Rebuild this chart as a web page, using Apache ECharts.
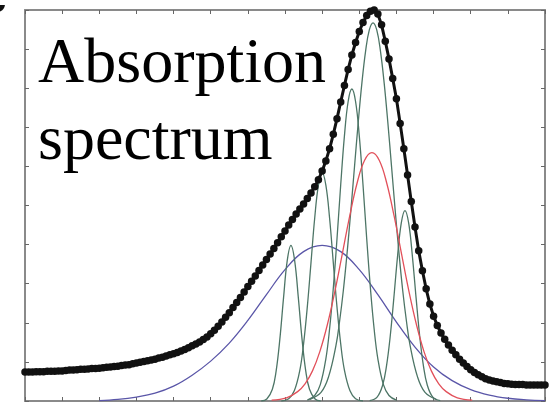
<!DOCTYPE html>
<html>
<head>
<meta charset="utf-8">
<script src="https://cdn.jsdelivr.net/npm/echarts@6/dist/echarts.min.js"></script>
<style>
  html, body { margin: 0; padding: 0; background: #fff; }
  #chart { width: 554px; height: 403px; }
</style>
</head>
<body>
<div id="chart"></div>
<script>
// measured absorption, sampled every 0.1 on x from 0 to 14
const measuredStart = 0;
const measuredStep = 0.1;
const measured = [
  0.74, 0.74, 0.74, 0.75, 0.75, 0.75, 0.76, 0.76, 0.76, 0.77,
  0.77, 0.78, 0.79, 0.79, 0.80, 0.81, 0.81, 0.82, 0.83, 0.83,
  0.84, 0.85, 0.86, 0.87, 0.88, 0.89, 0.91, 0.92, 0.93, 0.95,
  0.97, 0.99, 1.01, 1.03, 1.05, 1.07, 1.10, 1.12, 1.15, 1.18,
  1.21, 1.24, 1.28, 1.32, 1.36, 1.41, 1.46, 1.51, 1.57, 1.64,
  1.72, 1.81, 1.91, 2.02, 2.14, 2.26, 2.39, 2.52, 2.65, 2.79,
  2.93, 3.06, 3.20, 3.34, 3.48, 3.62, 3.76, 3.90, 4.05, 4.20,
  4.35, 4.50, 4.64, 4.78, 4.91, 5.04, 5.18, 5.32, 5.48, 5.66,
  5.88, 6.14, 6.45, 6.82, 7.22, 7.65, 8.07, 8.48, 8.85, 9.17,
  9.45, 9.68, 9.86, 9.97, 10.0, 9.90, 9.62, 9.20, 8.75, 8.25,
  7.73, 7.10, 6.45, 5.78, 5.10, 4.45, 3.84, 3.33, 2.87, 2.48,
  2.17, 1.93, 1.74, 1.58, 1.43, 1.30, 1.18, 1.07, 0.97, 0.88,
  0.80, 0.73, 0.67, 0.62, 0.57, 0.54, 0.51, 0.49, 0.47, 0.45,
  0.44, 0.43, 0.42, 0.42, 0.42, 0.41, 0.41, 0.41, 0.41, 0.41,
  0.41
];

// fitted bands: [x, y]
const bandBlue = [
  [2.0, 0.01], [2.5, 0.04], [3.0, 0.10], [3.5, 0.20], [4.0, 0.38], [4.5, 0.66],
  [5.0, 1.02], [5.5, 1.48], [6.0, 2.06], [6.5, 2.72], [7.0, 3.36], [7.5, 3.82],
  [8.0, 3.98], [8.5, 3.82], [9.0, 3.36], [9.5, 2.72], [10.0, 2.02], [10.5, 1.38],
  [11.0, 0.87], [11.5, 0.52], [12.0, 0.29], [12.5, 0.15], [13.0, 0.07], [13.5, 0.03], [14.0, 0.01]
];
const bandRed = [
  [6.64, 0.02], [7.04, 0.08], [7.34, 0.24], [7.54, 0.44], [7.74, 0.77], [7.94, 1.27],
  [8.14, 1.95], [8.34, 2.79], [8.54, 3.75], [8.74, 4.72], [8.94, 5.57], [9.14, 6.15],
  [9.34, 6.35], [9.54, 6.15], [9.74, 5.57], [9.94, 4.72], [10.14, 3.75], [10.34, 2.79],
  [10.54, 1.95], [10.74, 1.27], [10.94, 0.77], [11.14, 0.44], [11.34, 0.24], [11.64, 0.08], [12.04, 0.02]
];
const bandG1 = [
  [6.36, 0], [6.51, 0.05], [6.66, 0.30], [6.76, 0.76], [6.86, 1.57], [6.96, 2.63], [7.06, 3.59],
  [7.16, 3.98], [7.26, 3.59], [7.36, 2.63], [7.46, 1.57], [7.56, 0.76], [7.66, 0.30], [7.81, 0.05], [7.96, 0]
];
const bandG2 = [
  [6.9, 0], [7.1, 0.06], [7.25, 0.26], [7.4, 0.79], [7.5, 1.46], [7.6, 2.40], [7.7, 3.54],
  [7.8, 4.68], [7.9, 5.52], [8.0, 5.84], [8.1, 5.52], [8.2, 4.68], [8.3, 3.54], [8.4, 2.40],
  [8.5, 1.46], [8.6, 0.79], [8.75, 0.26], [8.9, 0.06], [9.1, 0]
];
const bandG3 = [
  [7.6, 0.02], [7.8, 0.14], [7.95, 0.42], [8.1, 1.08], [8.2, 1.84], [8.3, 2.88], [8.4, 4.15],
  [8.5, 5.53], [8.6, 6.78], [8.7, 7.66], [8.8, 7.98], [8.9, 7.66], [9.0, 6.78], [9.1, 5.53],
  [9.2, 4.15], [9.3, 2.88], [9.4, 1.84], [9.5, 1.08], [9.65, 0.42], [9.8, 0.14], [10.0, 0.02]
];
const bandG4 = [
  [7.67, 0.04], [7.97, 0.22], [8.17, 0.61], [8.37, 1.41], [8.47, 2.04], [8.57, 2.82], [8.67, 3.77],
  [8.77, 4.84], [8.87, 5.98], [8.97, 7.11], [9.07, 8.13], [9.17, 8.95], [9.27, 9.49], [9.37, 9.67],
  [9.47, 9.49], [9.57, 8.95], [9.67, 8.13], [9.77, 7.11], [9.87, 5.98], [9.97, 4.84], [10.07, 3.77],
  [10.17, 2.82], [10.27, 2.04], [10.37, 1.41], [10.57, 0.61], [10.77, 0.22], [11.07, 0.04]
];
const bandG5 = [
  [9.28, 0.01], [9.48, 0.10], [9.63, 0.41], [9.73, 0.88], [9.83, 1.63], [9.93, 2.63], [10.03, 3.70],
  [10.13, 4.55], [10.23, 4.87], [10.33, 4.55], [10.43, 3.70], [10.53, 2.63], [10.63, 1.63],
  [10.73, 0.88], [10.83, 0.41], [10.98, 0.10], [11.18, 0.01]
];

const labelLines = ['Absorption', 'spectrum'];

const chart = echarts.init(document.getElementById('chart'));

const frame = '#8a8a8a';
const axisBase = {
  min: 0,
  axisLabel: { show: false },
  splitLine: { show: false },
  axisLine: { show: true, onZero: false, lineStyle: { color: frame, width: 2 } },
  axisTick: { show: true, inside: true, length: 4, lineStyle: { color: '#666', width: 1 } }
};

function band(data, color) {
  return {
    type: 'line',
    data: data,
    smooth: 0.4,
    showSymbol: false,
    lineStyle: { color: color, width: 1.3 },
    z: 2
  };
}

chart.setOption({
  animation: false,
  backgroundColor: '#fff',
  grid: { left: 25, right: 9, top: 10, bottom: 2, outerBoundsMode: 'none' },
  xAxis: [
    Object.assign({ type: 'value', max: 14, interval: 1, position: 'bottom' }, axisBase),
    Object.assign({ type: 'value', max: 14, interval: 1, position: 'top' }, axisBase)
  ],
  yAxis: [
    Object.assign({ type: 'value', max: 10, interval: 1, position: 'left' }, axisBase),
    Object.assign({ type: 'value', max: 10, interval: 1, position: 'right' }, axisBase)
  ],
  series: [
    band(bandBlue, '#5a56a8'),
    band(bandG1, '#4d7566'),
    band(bandG2, '#4d7566'),
    band(bandG3, '#4d7566'),
    band(bandG4, '#4d7566'),
    band(bandG5, '#4d7566'),
    band(bandRed, '#e2505a'),
    {
      type: 'line',
      data: measured.map((v, i) => [measuredStart + i * measuredStep, v]),
      symbol: 'circle',
      symbolSize: 7.5,
      showAllSymbol: true,
      lineStyle: { color: '#111', width: 3 },
      itemStyle: { color: '#111', borderWidth: 0 },
      z: 3
    }
  ],
  graphic: [
    {
      type: 'text', left: -14, top: -16,
      style: { text: 'c', font: 'bold 36px "Liberation Sans"', fill: '#111' }
    },
    {
      type: 'text', left: 38, top: 33,
      style: { text: labelLines[0], font: '64px "Liberation Serif"', fill: '#000' }
    },
    {
      type: 'text', left: 38, top: 110,
      style: { text: labelLines[1], font: '64px "Liberation Serif"', fill: '#000' }
    }
  ]
});
</script>
</body>
</html>
